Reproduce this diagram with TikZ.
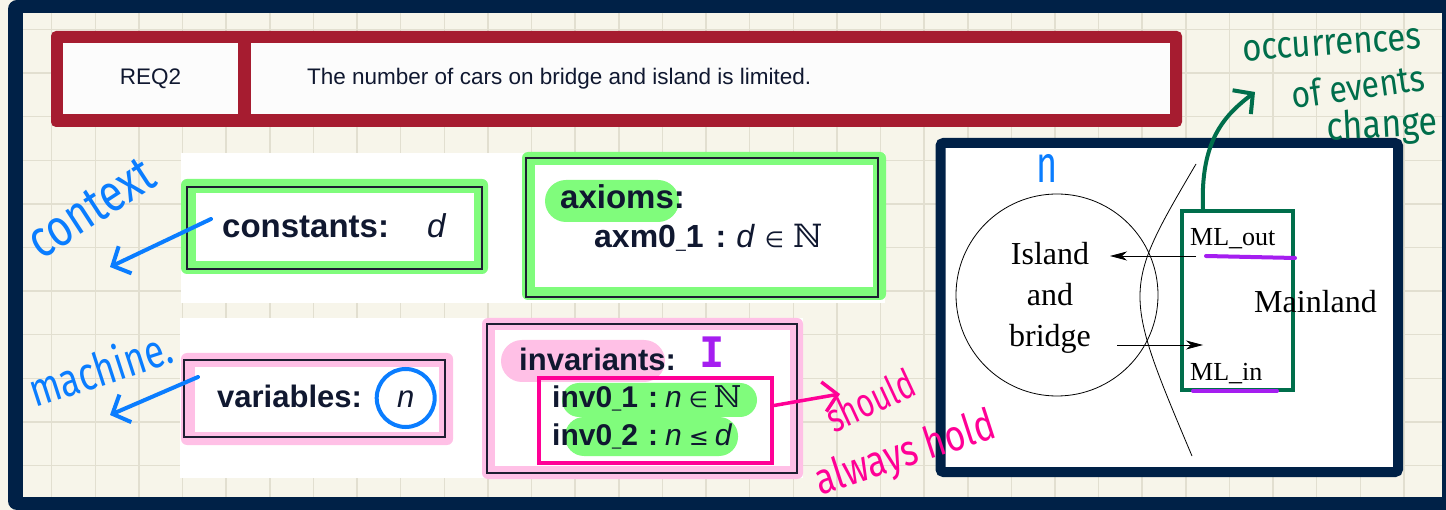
\documentclass[tikz,border=0pt]{standalone}
\usepackage{fontspec}
\usepackage{graphicx}
\usetikzlibrary{arrows.meta}
\setmainfont{Liberation Sans}
\newfontfamily\serifA{Liberation Serif}
\newfontfamily\hand{Fira Sans}
\newfontfamily\symf{DejaVu Sans}
\newfontfamily\dsf{DejaVu Serif}
\newfontfamily\monof{DejaVu Sans Mono}
\newcommand\fsz[1]{\fontsize{#1}{#1}\selectfont}
\newcommand\usc{\scalebox{0.55}[1]{\_}}
\definecolor{navy}{RGB}{0,33,71}
\definecolor{cream}{RGB}{247,245,234}
\definecolor{gridc}{RGB}{226,223,208}
\definecolor{reqred}{RGB}{166,28,48}
\definecolor{hlgreen}{RGB}{128,252,124}
\definecolor{hlpink}{RGB}{255,192,230}
\definecolor{hmag}{RGB}{255,0,150}
\definecolor{hpurple}{RGB}{165,30,240}
\definecolor{hblue}{RGB}{10,125,255}
\definecolor{dkgreen}{RGB}{0,110,75}
\definecolor{ink}{RGB}{16,24,48}
\definecolor{boxline}{RGB}{30,30,50}
\tikzset{
  lbl/.style={inner sep=0pt, anchor=base west, text=ink},
  dbl/.style={draw=boxline, line width=1.5pt},
  handtxt/.style={inner sep=0pt, font=\hand},
  barb/.style={line width=4pt, line cap=round, line join=round, -{Straight Barb[length=14pt,width=30pt]}},
  blk/.style={line width=0.8pt, -{Stealth[length=17pt,width=9pt,inset=5pt]}},
}
\begin{document}
\begin{tikzpicture}[x=1pt,y=-1pt]
\useasboundingbox (0,0) rectangle (1446,510);
% frame and paper
\fill[cream] (0,0) rectangle (1446,510);
\fill[navy, rounded corners=9pt] (8,0) rectangle (1470,510);
\fill[cream] (23,13) rectangle (1442,497);
\foreach \i in {1,...,32} \draw[gridc, line width=1.5pt] ({8.1+43.62*\i},13) -- ({8.1+43.62*\i},497);
\foreach \j in {0,...,10} \draw[gridc, line width=1.5pt] (23,{29.5+43.6*\j}) -- (1442,{29.5+43.6*\j});
% white panels
\fill[white] (181,153) rectangle (885,303);
\fill[white] (180,318) rectangle (803,478);
% requirement
\fill[reqred, rounded corners=5pt] (51,31) rectangle (1182,127);
\fill[white!98!gray] (63,43) rectangle (238,114);
\fill[white!98!gray] (251,43) rectangle (1170,114);
\node[inner sep=0pt, text=ink, font=\fsz{22.5}] (req) at (150.5,79) {REQ2};
\node[inner sep=0pt, anchor=west, text=ink, font=\fsz{22.5}] (reqtext) at (307,79) {The number of cars on bridge and island is limited.};
% constants
\fill[hlgreen, rounded corners=6pt] (181,179) rectangle (488,274);
\draw[dbl] (187,187) rectangle (482,269);
\fill[white] (196,193) rectangle (474,261);
\node[lbl, font=\fsz{33}\bfseries] (constlbl) at (222,238) {constants:};
\node[lbl, font=\fsz{33}\itshape] (constd) at (427,238) {d};
% axioms
\fill[hlgreen, rounded corners=6pt] (522,152) rectangle (886,300);
\draw[dbl] (526,158) rectangle (878,297);
\fill[white] (535,165) rectangle (873,287);
\fill[hlgreen, rounded corners=21pt] (545,180) rectangle (679,222);
\node[lbl, font=\fsz{33}\bfseries] (axlbl) at (560,209) {axioms:};
\node[lbl, font=\fsz{32}] (axm) at (594,248) {\textbf{axm0\usc1}\hspace{12pt}\textbf{:}\hspace{10pt}\textit{d}\hspace{10pt}{\symf\fsz{22}∈}\hspace{9pt}{\dsf ℕ}};
% variables
\fill[hlpink, rounded corners=6pt] (181,353) rectangle (453,445);
\draw[dbl] (184,360) rectangle (445,437);
\fill[white] (195,367) rectangle (439,432);
\node[lbl, font=\fsz{31}\bfseries] (varlbl) at (217,408) {variables:};
\node[lbl, font=\fsz{31}\itshape] (varn) at (397,408) {n};
\node[draw=hblue, line width=4pt, circle, minimum size=58pt, inner sep=0pt] (ncirc) at (405.7,398) {};
% invariants
\fill[hlpink, rounded corners=6pt] (482,318) rectangle (803,479);
\draw[dbl] (487,324) rectangle (797,473);
\fill[white] (495,330) rectangle (790,466);
\fill[hlpink, rounded corners=21pt] (501,340) rectangle (665,382);
\fill[hlgreen, rounded corners=17pt] (562,383) rectangle (757,417);
\fill[hlgreen, rounded corners=19pt] (565,417) rectangle (738,456);
\node[draw=hmag, line width=4pt, minimum width=233pt, minimum height=85pt, inner sep=0pt] (invrect) at (655.5,420.5) {};
\node[lbl, font=\fsz{31}\bfseries] (invlbl) at (519,371) {invariants:};
\node[lbl, font=\fsz{30}] (inv1) at (552,408) {\textbf{inv0\usc1}\hspace{10pt}\textbf{:}\hspace{7pt}\textit{n}\hspace{7pt}{\symf\fsz{22}∈}\hspace{6pt}{\dsf ℕ}};
\node[lbl, font=\fsz{30}] (inv2) at (552,446) {\textbf{inv0\usc2}\hspace{10pt}\textbf{:}\hspace{7pt}\textit{n}\hspace{7pt}{\symf\fsz{24}≤}\hspace{6pt}\textit{d}};
% right panel
\draw[navy, line width=10pt, rounded corners=3pt, fill=white] (940.5,143) rectangle (1398,472);
\node[draw, circle, line width=0.8pt, minimum size=202pt, inner sep=0pt] (island) at (1057,295) {};
\node[inner sep=0pt, align=center, font=\serifA\fontsize{32}{41}\selectfont] (islandtxt) at (1050,298) {Island\\and\\bridge};
\draw[line width=0.8pt] (1196,164) .. controls (1122,290) .. (1192,456);
\node[draw=dkgreen, line width=4pt, minimum width=111pt, minimum height=179pt, inner sep=0pt] (mlrect) at (1237.5,300.5) {};
\node[inner sep=0pt, anchor=base west, font=\serifA\fsz{32}] (mainland) at (1254,313) {Mainland};
\node[inner sep=0pt, anchor=base west, font=\serifA\fsz{26}] (mlout) at (1190,246) {ML\_out};
\node[inner sep=0pt, anchor=base west, font=\serifA\fsz{26}] (mlin) at (1190,381) {ML\_in};
\coordinate (outS) at (1196,256);
\coordinate (outT) at (1110,256);
\coordinate (inS) at (1117,345);
\coordinate (inT) at (1203,345);
\draw[blk] (outS) -- (outT);
\draw[blk] (inS) -- (inT);
\draw[hpurple, line width=4pt, line cap=round] (1206,256) -- (1295,258);
\draw[hpurple, line width=4pt, line cap=round] (1193,391) -- (1277,391);
% handwritten annotations
\node[handtxt, text=hblue, rotate=33] (ctx) at (91,208) {\fsz{42}\scalebox{1}[1.25]{context}};
\node[handtxt, text=hblue, rotate=18] (mach) at (100,368) {\fsz{36}\scalebox{1}[1.3]{machine.}};
\coordinate (ctxS) at (211,219);
\coordinate (ctxT) at (110,267);
\coordinate (machS) at (198,377);
\coordinate (machT) at (110,415);
\draw[hblue, barb] (ctxS) -- (ctxT);
\draw[hblue, barb] (machS) -- (machT);
\node[handtxt, text=hblue] (nmark) at (1047,168) {\fsz{40}\scalebox{0.9}[1.3]{n}};
\node[inner sep=0pt, text=hpurple, font=\monof\bfseries\fsz{42}] (Imark) at (712,352) {I};
\coordinate (shT) at (840,394);
\draw[hmag, barb, line width=3.5pt] ([yshift=15pt]invrect.east) .. controls (805,400) .. (shT);
\node[handtxt, text=hmag, rotate=25] (should) at (870,400) {\fsz{30}\scalebox{1}[1.35]{should}};
\node[handtxt, text=hmag, rotate=18] (always) at (906,455) {\fsz{35}\scalebox{1}[1.25]{always hold}};
\coordinate (evT) at (1255,92);
\draw[dkgreen, barb] ([xshift=-34.5pt]mlrect.north) .. controls (1200,140) and (1225,115) .. (evT);
\node[handtxt, text=dkgreen, rotate=4] (occ) at (1332,45) {\fsz{33}\scalebox{1}[1.15]{occurrences}};
\node[handtxt, text=dkgreen, rotate=8] (ofev) at (1358,86) {\fsz{32}\scalebox{1}[1.15]{of events}};
\node[handtxt, text=dkgreen, rotate=3] (chg) at (1382,127) {\fsz{34}\scalebox{1}[1.15]{change}};
\end{tikzpicture}
\end{document}
